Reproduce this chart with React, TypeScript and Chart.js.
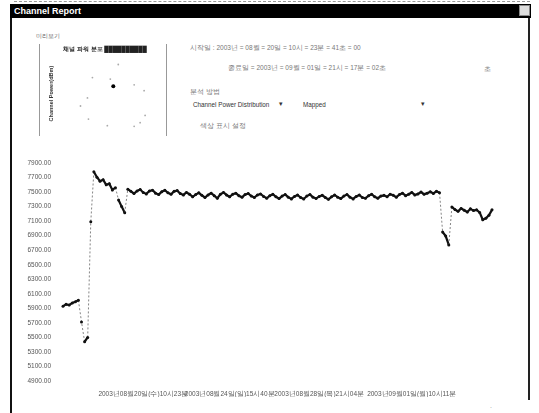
import React, { useEffect, useRef } from "react";
import { Chart, registerables } from "chart.js";

Chart.register(...registerables);

// Main series: channel power values (one per sample)
const powerValues: number[] = [
  5930, 5955, 5945, 5975, 5990, 6010, 5712, 5440, 5500, 7090,
  7780, 7705, 7650, 7670, 7600, 7615, 7530, 7560, 7390, 7300, 7215,
  // plateau 1
  7540, 7510, 7480, 7515, 7535, 7495, 7475, 7515, 7525, 7485, 7465, 7505, 7525, 7490, 7470, 7510, 7520, 7480,
  // plateau 2
  7460, 7495, 7470, 7435, 7465, 7490, 7455, 7425, 7460, 7485, 7450, 7415, 7470, 7495, 7460, 7435, 7470, 7485, 7450, 7430, 7465, 7480, 7445, 7425, 7460, 7475,
  // plateau 3
  7440, 7415, 7450, 7470, 7435, 7410, 7445, 7465, 7430, 7405, 7440, 7460, 7425, 7405, 7445, 7465, 7430, 7410, 7440, 7455,
  7425, 7400, 7435, 7460, 7430, 7410, 7445, 7465, 7430, 7405, 7440, 7460, 7425, 7415, 7450, 7470, 7435, 7415, 7445,
  // plateau 4
  7455, 7435, 7470, 7455, 7430, 7465, 7485, 7450, 7470, 7495, 7460, 7475, 7500, 7470, 7485, 7505, 7480, 7510, 7490,
  // final drop and recovery
  6951, 6895, 6772, 7295, 7260, 7235, 7275, 7250, 7225, 7270, 7245, 7255, 7220, 7120, 7140, 7180, 7255,
];

const categories: string[] = powerValues.map((_, i) => String(i + 1));

const xTickIdx: number[] = [26, 54, 83, 113];
const xTickText: string[] = [
  "2003년08월20일(수)10시23분",
  "2003년08월24일(일)15시40분",
  "2003년08월28일(목)21시04분",
  "2003년09월01일(월)10시11분",
];

const yMin = 4900;
const yMax = 7900;
const yStep = 200;

// mini distribution preview
const miniX: number[] = [56, 30, 48, 72, 82, 25, 18, 83, 78, 26, 72, 45];
const miniY: number[] = [90, 72, 70, 62, 54, 44, 33, 20, 10, 15, 5, 6];
const miniHiX: number[] = [51];
const miniHiY: number[] = [60];

function MainChart() {
  const ref = useRef<HTMLCanvasElement>(null);
  useEffect(() => {
    if (!ref.current) return;
    const steep = (ctx: any) => Math.abs(ctx.p1.parsed.y - ctx.p0.parsed.y) > 150;
    const chart = new Chart(ref.current, {
      type: "line",
      data: {
        labels: categories,
        datasets: [
          {
            data: powerValues,
            borderColor: "#111",
            backgroundColor: "#111",
            borderWidth: 2.2,
            pointRadius: 1.5,
            pointBorderWidth: 0,
            tension: 0,
            segment: {
              borderDash: (ctx: any) => (steep(ctx) ? [2, 2] : undefined),
              borderWidth: (ctx: any) => (steep(ctx) ? 0.8 : undefined),
              borderColor: (ctx: any) => (steep(ctx) ? "#666" : undefined),
            },
          },
        ],
      },
      options: {
        animation: false,
        responsive: false,
        maintainAspectRatio: false,
        layout: { padding: { top: 8, right: 10, bottom: 0, left: 0 } },
        plugins: { legend: { display: false }, tooltip: { enabled: false } },
        scales: {
          x: {
            type: "category",
            grid: { display: false },
            border: { display: false },
            ticks: {
              autoSkip: false,
              maxRotation: 0,
              padding: 1,
              color: "#555",
              font: { size: 6.5, family: "Liberation Sans, Arial, sans-serif" },
              callback: (_v: any, i: number) => {
                const k = xTickIdx.indexOf(i);
                return k >= 0 ? xTickText[k] : "";
              },
            },
            afterFit: (s: any) => {
              s.height = 16;
            },
          },
          y: {
            min: yMin,
            max: yMax,
            grid: { display: false },
            border: { display: false },
            ticks: {
              stepSize: yStep,
              padding: 4,
              color: "#555",
              font: { size: 6.5, family: "Liberation Sans, Arial, sans-serif" },
              callback: (v: any) => Number(v).toFixed(2),
            },
            afterFit: (s: any) => {
              s.width = 43;
            },
          },
        },
      },
    });
    return () => chart.destroy();
  }, []);
  return <canvas ref={ref} width={482} height={242} style={{ width: 482, height: 242, display: "block" }} />;
}

function MiniChart() {
  const ref = useRef<HTMLCanvasElement>(null);
  useEffect(() => {
    if (!ref.current) return;
    const chart = new Chart(ref.current, {
      type: "scatter",
      data: {
        datasets: [
          {
            data: miniX.map((x, i) => ({ x, y: miniY[i] })),
            backgroundColor: "#aaa",
            pointRadius: 0.9,
            pointBorderWidth: 0,
          },
          {
            data: miniHiX.map((x, i) => ({ x, y: miniHiY[i] })),
            backgroundColor: "#000",
            pointRadius: 2,
            pointBorderWidth: 0,
          },
        ],
      },
      options: {
        animation: false,
        responsive: false,
        layout: { padding: { top: 0, right: 6, bottom: 4, left: 4 } },
        plugins: {
          legend: { display: false },
          tooltip: { enabled: false },
          title: {
            display: true,
            text: "채널 파워 분포 ██████████",
            color: "#222",
            font: { size: 6, weight: "bold", family: "Liberation Sans, Arial, sans-serif" },
            padding: { top: 2, bottom: 4 },
          },
        },
        scales: {
          x: { min: 0, max: 100, display: false },
          y: {
            min: 0,
            max: 100,
            grid: { display: false },
            border: { display: false },
            ticks: { display: false },
            title: {
              display: true,
              text: "Channel Power(dBm)",
              color: "#333",
              font: { size: 5.5, weight: "bold", family: "Liberation Sans, Arial, sans-serif" },
              padding: 0,
            },
          },
        },
      },
    });
    return () => chart.destroy();
  }, []);
  return <canvas ref={ref} width={124} height={90} style={{ width: 124, height: 90, display: "block" }} />;
}

const txt: React.CSSProperties = {
  position: "absolute",
  fontSize: 7,
  color: "#777",
  whiteSpace: "nowrap",
  fontFamily: "Liberation Sans, Arial, sans-serif",
};

export default function App() {
  return (
    <div
      style={{
        position: "fixed",
        left: 0,
        top: 0,
        width: 539,
        height: 413,
        background: "#fff",
        overflow: "hidden",
        fontFamily: "Liberation Sans, Arial, sans-serif",
      }}
    >
      <div style={{ position: "absolute", left: 14, top: 1, width: 516, borderTop: "1px dashed #999" }} />
      <div
        style={{
          position: "absolute",
          left: 10,
          top: 4,
          width: 521,
          height: 14,
          background: "#000",
        }}
      >
        <span
          style={{
            position: "absolute",
            left: 4,
            top: 1,
            color: "#fff",
            fontWeight: "bold",
            fontSize: 9,
            lineHeight: "12px",
          }}
        >
          Channel Report
        </span>
        <div
          style={{
            position: "absolute",
            right: 1,
            top: 1,
            width: 11,
            height: 11,
            background: "#ddd",
            border: "1px solid #888",
            boxSizing: "border-box",
          }}
        />
      </div>
      <div style={{ position: "absolute", left: 10, top: 18, width: 2, height: 395, background: "#111" }} />
      <div style={{ position: "absolute", left: 528, top: 18, width: 2, height: 382, background: "#222" }} />

      {/* preview box */}
      <div style={{ ...txt, left: 36, top: 32, fontSize: 6, color: "#666" }}>미리보기</div>
      <div style={{ position: "absolute", left: 39, top: 44, width: 1, height: 92, background: "#999" }} />
      <div style={{ position: "absolute", left: 166, top: 44, width: 1, height: 92, background: "#999" }} />
      <div style={{ position: "absolute", left: 44, top: 44 }}>
        <MiniChart />
      </div>

      {/* right side info */}
      <div style={{ ...txt, left: 190, top: 44, fontSize: 6.5 }}>시작일 : 2003년 = 08월 = 20일 = 10시 = 23분 = 41초 = 00</div>
      <div style={{ ...txt, left: 228, top: 64, fontSize: 6.5 }}>종료일 = 2003년 = 09월 = 01일 = 21시 = 17분 = 02초</div>
      <div style={{ ...txt, left: 484, top: 64 }}>초</div>
      <div style={{ ...txt, left: 190, top: 88, fontSize: 6.5 }}>분석 방법</div>
      <div style={{ ...txt, left: 193, top: 101, color: "#333", fontSize: 6.3 }}>Channel Power Distribution</div>
      <div style={{ ...txt, left: 279, top: 100, color: "#333", fontSize: 7 }}>▾</div>
      <div style={{ ...txt, left: 303, top: 101, color: "#333", fontSize: 6.3 }}>Mapped</div>
      <div style={{ ...txt, left: 421, top: 100, color: "#333", fontSize: 7 }}>▾</div>
      <div style={{ ...txt, left: 200, top: 122, fontSize: 6.5 }}>색상 표시 설정</div>

      {/* main chart */}
      <div style={{ position: "absolute", left: 20, top: 155 }}>
        <MainChart />
      </div>
      <div style={{ ...txt, left: 490, top: 402, color: "#999" }}>.</div>
    </div>
  );
}
